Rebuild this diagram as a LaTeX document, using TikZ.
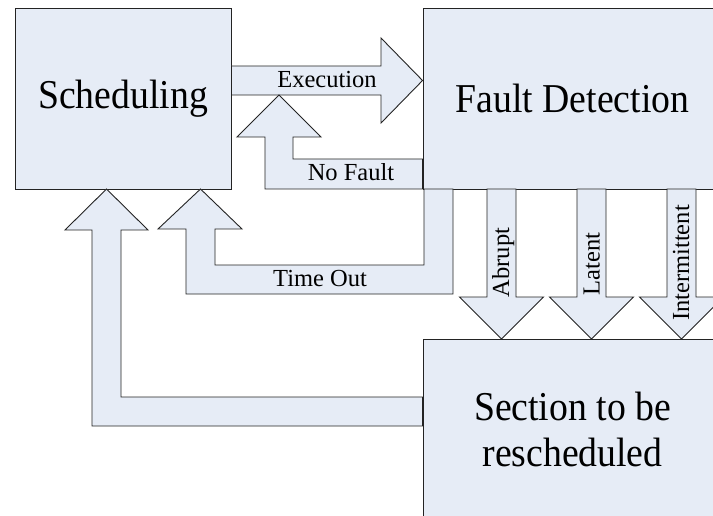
\documentclass[tikz,border=0pt]{standalone}
\usepackage{fontspec}
\setmainfont{Liberation Serif}
\definecolor{boxfill}{RGB}{230,236,246}
\definecolor{edge}{RGB}{35,35,35}
\begin{document}
\begin{tikzpicture}[x=1pt,y=-1pt,
  blk/.style={fill=boxfill,draw=edge,line width=0.9pt,line join=miter},
  box/.style={blk,rectangle,inner sep=0pt},
  big/.style={font=\fontsize{41}{46}\selectfont,align=center,inner sep=0pt,xscale=0.92,transform shape},
  lbl/.style={font=\fontsize{24.5}{26}\selectfont,inner sep=0pt,text height=16pt,text depth=0pt}]
\useasboundingbox (0,0) rectangle (713,516);
\clip (0,0) rectangle (713,516);
% boxes
\node[box,minimum width=216pt,minimum height=181pt] (sched) at (123,98.5) {};
\node[box,minimum width=299pt,minimum height=181pt] (fault) at (572.5,98.5) {};
\node[box,minimum width=299pt,minimum height=181pt] (section) at (572.5,429.5) {};
\node[big] (tsched) at (sched.center) {Scheduling};
\node[big] (tfault) at (fault.center) {Fault Detection};
\node[big] (tsection) at (section.center) {Section to be\\rescheduled};
% Execution arrow
\draw[blk] (sched.east |- 0,66) -- (381,66) -- (381,38) -- (fault.west |- 0,80.5)
  -- (381,123) -- (381,95) -- (sched.east |- 0,95) -- cycle;
% No Fault arrow
\draw[blk] (fault.west |- 0,159) -- (293,159) -- (293,137) -- (321,137) -- (279,95)
  -- (237,137) -- (265,137) -- (265,189) -- (fault.west |- 0,189) -- cycle;
% Time Out arrow
\draw[blk] (424,189) -- (424,265) -- (215,265) -- (215,229) -- (242,229) -- (200.5,189)
  -- (158,229) -- (186,229) -- (186,294) -- (453,294) -- (453,189) -- cycle;
% Return arrow from section
\draw[blk] (section.west |- 0,397) -- (121,397) -- (121,230) -- (148,230) -- (106.5,189)
  -- (65,230) -- (92,230) -- (92,426) -- (section.west |- 0,426) -- cycle;
% Down arrows
\foreach \c in {501.5,591.5,681.5}{
  \draw[blk] (\c-14.5,189) -- (\c-14.5,297) -- (\c-42,297) -- (\c,339) -- (\c+42,297)
    -- (\c+14.5,297) -- (\c+14.5,189) -- cycle;
}
% labels
\node[lbl] (lexec) at (327,80) {Execution};
\node[lbl] (lnof) at (351,173) {No Fault};
\node[lbl] (ltime) at (320,278.5) {Time Out};
\node[lbl,rotate=90] (labr) at (501,262.5) {Abrupt};
\node[lbl,rotate=90] (llat) at (591.5,264) {Latent};
\node[lbl,rotate=90] (lint) at (681,263) {Intermittent};
\end{tikzpicture}
\end{document}
